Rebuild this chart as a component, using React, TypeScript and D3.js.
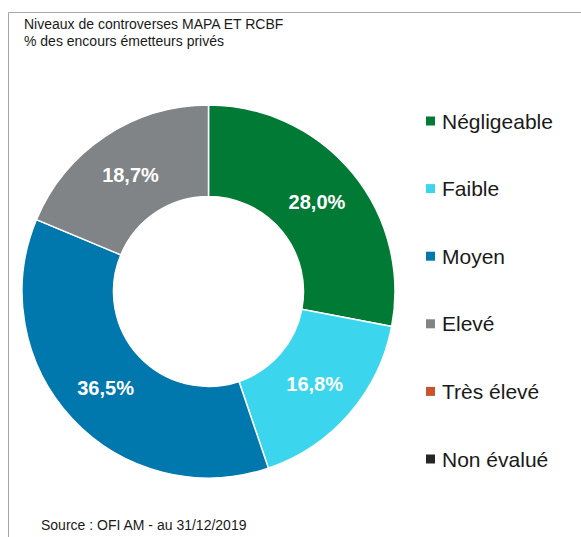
import React, { useRef, useEffect } from "react";
import * as d3 from "d3";

const categories = ["Négligeable", "Faible", "Moyen", "Elevé", "Très élevé", "Non évalué"];
const values = [28.0, 16.8, 36.5, 18.7, 0, 0];
const colors = ["#007a35", "#3bd5ee", "#0077ad", "#818486", "#c9532f", "#262626"];
const titleLines = ["Niveaux de controverses MAPA ET RCBF", "% des encours émetteurs privés"];
const source = "Source : OFI AM - au 31/12/2019";

const App = () => {
  const ref = useRef<SVGSVGElement>(null);

  useEffect(() => {
    const svg = d3.select(ref.current);
    svg.selectAll("*").remove();

    const width = 581;
    const height = 537;
    const font = "'Liberation Sans', Arial, sans-serif";

    svg.attr("width", width).attr("height", height);

    // frame (top and left edges are visible)
    svg
      .append("path")
      .attr("d", `M8.5,${height} L8.5,12.5 L${width},12.5`)
      .attr("fill", "none")
      .attr("stroke", "#a6a6a6")
      .attr("stroke-width", 1);

    svg
      .append("g")
      .selectAll("text")
      .data(titleLines)
      .join("text")
      .attr("x", 24)
      .attr("y", (d, i) => 28.5 + i * 17)
      .attr("font-family", font)
      .attr("font-size", "14px")
      .attr("fill", "#1a1a1a")
      .text((d) => d);

    const data = categories.map((c, i) => ({ name: c, value: values[i], color: colors[i] }));

    const cx = 208.5;
    const cy = 291.5;
    const outer = 186.5;
    const inner = 95;

    const pie = d3
      .pie<any>()
      .value((d) => d.value)
      .sort(null);

    const arc = d3.arc<any>().innerRadius(inner).outerRadius(outer);

    const g = svg.append("g").attr("transform", `translate(${cx},${cy})`);

    const arcs = pie(data).filter((d) => d.data.value > 0);

    g.selectAll("path")
      .data(arcs)
      .join("path")
      .attr("d", arc)
      .attr("fill", (d) => d.data.color)
      .attr("stroke", "#ffffff")
      .attr("stroke-width", 1.5);

    g.selectAll("text")
      .data(arcs)
      .join("text")
      .attr("transform", (d) => `translate(${arc.centroid(d)})`)
      .attr("text-anchor", "middle")
      .attr("dy", "0.36em")
      .attr("font-family", font)
      .attr("font-weight", "bold")
      .attr("font-size", "20px")
      .attr("fill", "#ffffff")
      .text((d) => d3.format(".1f")(d.data.value).replace(".", ",") + "%");

    // legend
    const ly = d3
      .scalePoint()
      .domain(categories)
      .range([121, 459]);

    const legend = svg
      .append("g")
      .selectAll("g")
      .data(data)
      .join("g")
      .attr("transform", (d) => `translate(426,${ly(d.name)})`);

    legend
      .append("rect")
      .attr("x", 0)
      .attr("y", -4.5)
      .attr("width", 9)
      .attr("height", 9)
      .attr("fill", (d) => d.color);

    legend
      .append("text")
      .attr("x", 16)
      .attr("dy", "0.36em")
      .attr("font-family", font)
      .attr("font-size", "21px")
      .attr("fill", "#1a1a1a")
      .text((d) => d.name);

    svg
      .append("text")
      .attr("x", 41)
      .attr("y", 530)
      .attr("font-family", font)
      .attr("font-size", "14px")
      .attr("fill", "#1a1a1a")
      .text(source);
  }, []);

  return (
    <svg
      ref={ref}
      style={{ position: "absolute", left: 0, top: 0, display: "block", background: "#ffffff" }}
    ></svg>
  );
};

export default App;
